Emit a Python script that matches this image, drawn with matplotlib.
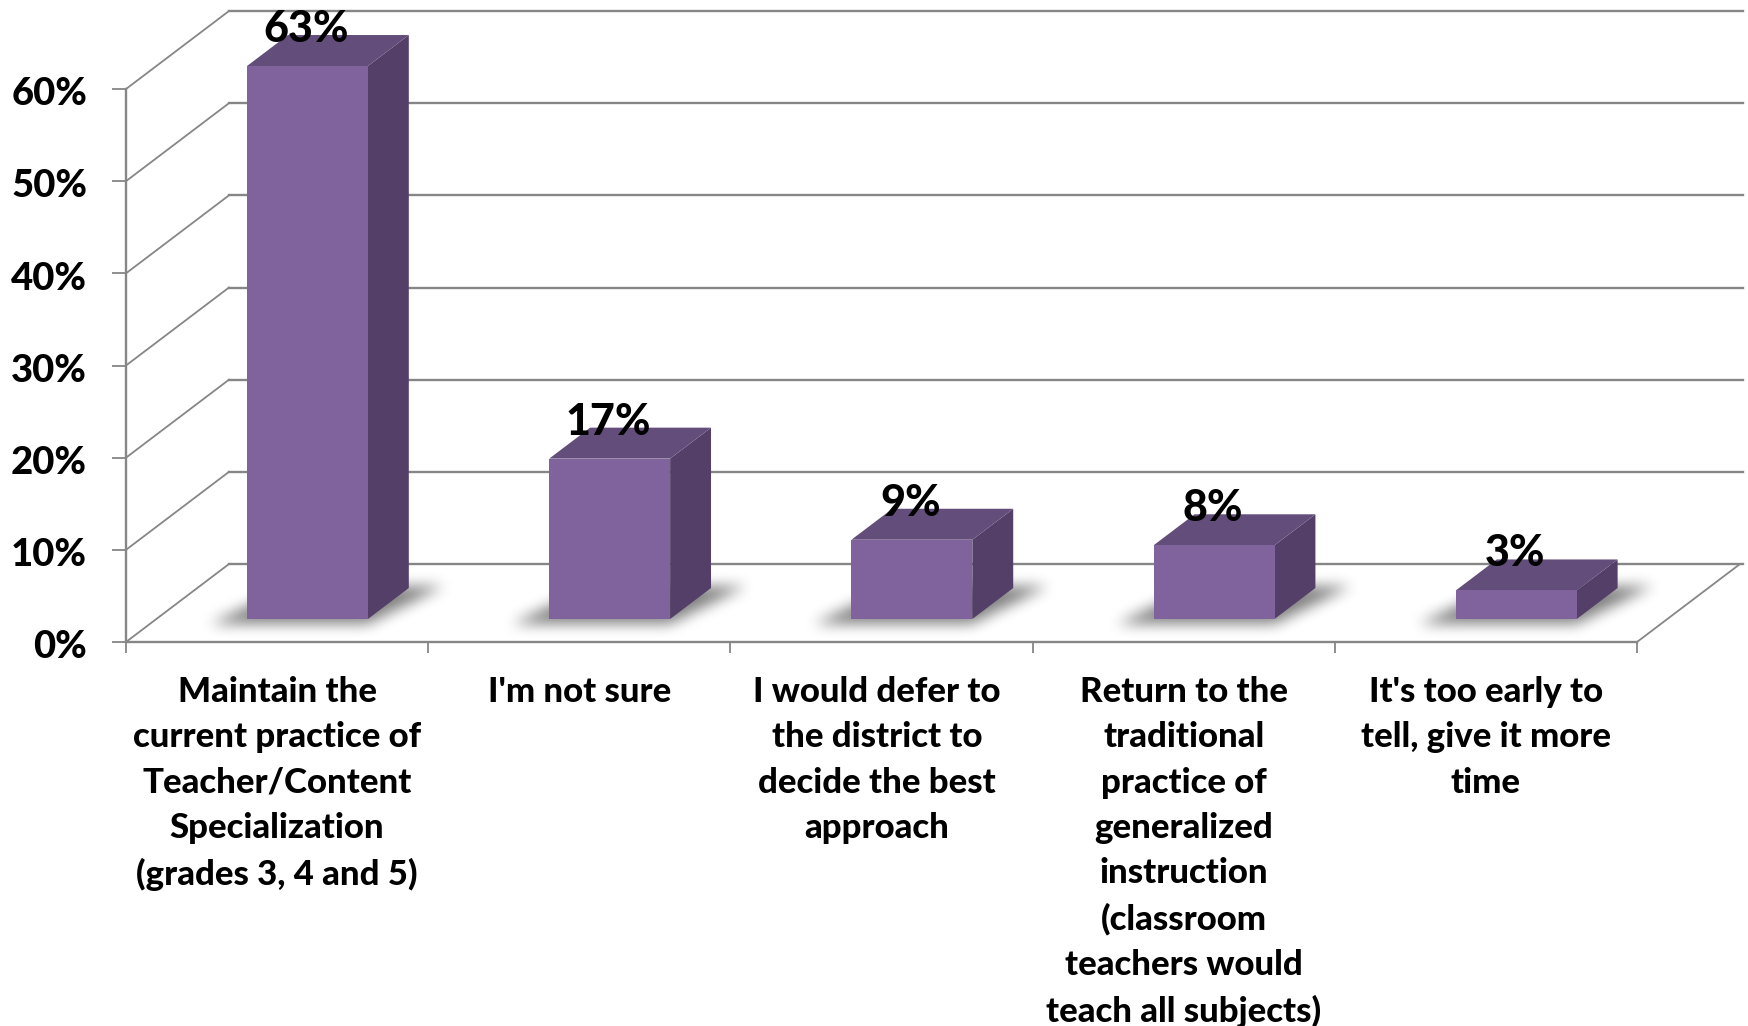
import numpy as np
import matplotlib
matplotlib.use("Agg")
from matplotlib import pyplot as plt
from matplotlib.patches import Polygon
from matplotlib.path import Path
from matplotlib.transforms import ScaledTranslation

categories = [
    "Maintain the\ncurrent practice of\nTeacher/Content\nSpecialization\n(grades 3, 4 and 5)",
    "I'm not sure",
    "I would defer to\nthe district to\ndecide the best\napproach",
    "Return to the\ntraditional\npractice of\ngeneralized\ninstruction\n(classroom\nteachers would\nteach all subjects)",
    "It's too early to\ntell, give it more\ntime",
]
values = [63, 17.4, 8.6, 8, 3.1]
y_ticks = [0, 10, 20, 30, 40, 50, 60]

W, H = 1748, 1026
LEFT, RIGHT, BOTTOM, TOP = 126, 1637, 642, 89  # axes box in pixels

FRONT = "#80639d"
TOPC = "#634d7a"
SIDE = "#533f68"
LINE = "#868686"

plt.rcParams["font.family"] = ["Lato", "DejaVu Sans"]

fig = plt.figure(figsize=(W / 100, H / 100), dpi=100)
ax = fig.add_axes([LEFT / W, 1 - BOTTOM / H, (RIGHT - LEFT) / W, (BOTTOM - TOP) / H])
ymax = y_ticks[-1]

# 3d depth of the floor, in data units
px_x = len(values) / (RIGHT - LEFT)
px_y = ymax / (BOTTOM - TOP)
DX = 103 * px_x
DY = 78 * px_y


def floor(x, d, z=0):
    return (x + d * DX, z + d * DY)


def blur(a, r=6, passes=3):
    kernel = np.ones(2 * r + 1) / (2 * r + 1)
    for _ in range(passes):
        a = np.apply_along_axis(np.convolve, 0, a, kernel, mode="same")
        a = np.apply_along_axis(np.convolve, 1, a, kernel, mode="same")
    return a


# walls
for v in y_ticks:
    ax.plot([0, DX], [v, v + DY], color=LINE, lw=1.3, clip_on=False, zorder=1)
    ax.plot([DX, len(values) + 0.35], [v + DY, v + DY], color=LINE, lw=1.7, clip_on=False, zorder=1)
ax.plot([len(values), len(values) + DX], [0, DY], color=LINE, lw=1.3, clip_on=False, zorder=1)

# bars
bar_w = 0.40
d0, d1 = 0.295, 0.692
for i, v in enumerate(values):
    x0 = i + 0.5 - bar_w / 2
    x1 = x0 + bar_w
    h = min(v, ymax)  # the tall bar is cut at the axis top

    # soft shadow on the floor, a blurred copy of the footprint
    shape = Path([floor(x0 - 0.1, d0 - 0.07), floor(x1 + 0.02, d0 - 0.07),
                  floor(x1 + 0.11, d1 + 0.02), floor(x0, d1 + 0.02)])
    ext = [x0 - 0.3, x1 + 0.4, 0.05 * DY, 0.95 * DY]
    xs = np.linspace(ext[0], ext[1], int((ext[1] - ext[0]) / px_x))
    ys = np.linspace(ext[2], ext[3], int((ext[3] - ext[2]) / px_y))
    gx, gy = np.meshgrid(xs, ys)
    mask = shape.contains_points(np.c_[gx.ravel(), gy.ravel()]).reshape(gx.shape).astype(float)
    rgba = np.zeros(mask.shape + (4,))
    rgba[..., 3] = blur(mask) * 0.5
    ax.imshow(rgba, extent=ext, origin="lower", aspect="auto", clip_on=False, zorder=2)

    ax.add_patch(Polygon([floor(x1, d0), floor(x1, d1), floor(x1, d1, h), floor(x1, d0, h)],
                         fc=SIDE, lw=0, clip_on=False, zorder=3))
    ax.add_patch(Polygon([floor(x0, d0, h), floor(x1, d0, h), floor(x1, d1, h), floor(x0, d1, h)],
                         fc=TOPC, lw=0, clip_on=False, zorder=3))
    ax.add_patch(Polygon([floor(x0, d0), floor(x1, d0), floor(x1, d0, h), floor(x0, d0, h)],
                         fc=FRONT, lw=0, clip_on=False, zorder=4))

    fx, fy = floor(i + 0.5, d0, h)
    ax.text(fx - 1 * px_x, fy + 37 * px_y, f"{v:.0f}%", ha="center", va="center", fontsize=31,
            fontweight="black", color="black", clip_on=False, zorder=6)

ax.set_xlim(0, len(values))
ax.set_ylim(0, ymax)

# axes
for s in ("top", "right"):
    ax.spines[s].set_visible(False)
for s in ("left", "bottom"):
    ax.spines[s].set_color(LINE)
    ax.spines[s].set_linewidth(1.7)
ax.patch.set_visible(False)

ax.set_yticks(y_ticks)
ax.set_yticklabels([f"{v}%" for v in y_ticks], fontsize=27.5, fontweight="black")
ax.tick_params(axis="y", length=10, width=1.3, color=LINE, pad=18)
for lab in ax.get_yticklabels():
    lab.set_transform(lab.get_transform() + ScaledTranslation(0, -2.2 / 100, fig.dpi_scale_trans))

ax.set_xticks(np.arange(len(values) + 1))
ax.set_xticklabels([])
ax.tick_params(axis="x", which="major", length=8, width=1.3, color=LINE)
ax.set_xticks(np.arange(len(values)) + 0.5, minor=True)
ax.set_xticklabels(categories, minor=True, fontsize=25, fontweight="black", linespacing=1.51,
                   ha="center", va="top")
ax.tick_params(axis="x", which="minor", length=0, pad=24.5)

# third label sits a little left of its slot in the original
lab = ax.get_xticklabels(minor=True)[2]
lab.set_transform(lab.get_transform() + ScaledTranslation(-4.5 / 100, 0, fig.dpi_scale_trans))

fig.savefig("out.png", dpi=100, facecolor="white")
